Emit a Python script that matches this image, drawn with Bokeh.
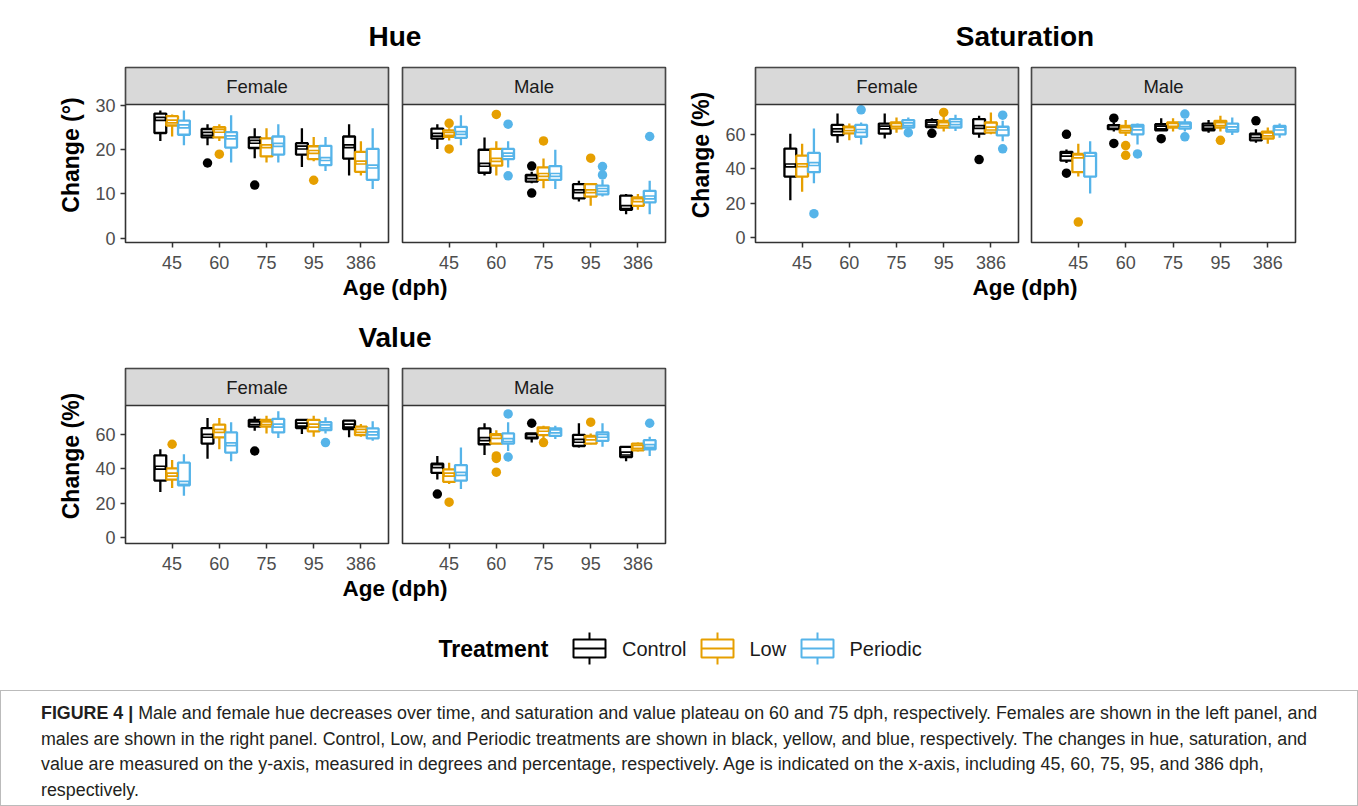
from bokeh.plotting import figure
from bokeh.layouts import column, row
from bokeh.models import Div, Spacer, Range1d, FixedTicker, ColumnDataSource, BoxAnnotation, Label
from bokeh.core.properties import value
from bokeh.embed import file_html
from bokeh.resources import INLINE

# ---------------- data ----------------
AGES = ["45", "60", "75", "95", "386"]
TREATMENTS = ["Control", "Low", "Periodic"]
COLORS = ["#000000", "#E69F00", "#56B4E9"]

# order within each list: for each age -> Control, Low, Periodic
HUE_FEMALE = dict(
    lower=[22.0, 23.0, 21.0, 21.0, 22.0, 17.1, 18.1, 17.1, 17.1, 16.1, 17.4, 15.2, 14.2, 14.2, 11.1],
    q1=[23.8, 25.5, 23.4, 22.8, 22.8, 20.5, 20.4, 18.5, 18.9, 18.9, 17.9, 16.5, 18.0, 15.0, 13.2],
    median=[27.0, 26.4, 25.3, 23.6, 24.3, 22.8, 21.8, 20.8, 21.1, 20.5, 19.5, 17.9, 20.8, 17.1, 16.2],
    q3=[28.2, 27.6, 26.6, 24.7, 25.1, 24.0, 22.8, 22.6, 23.0, 21.5, 20.8, 20.9, 23.0, 19.5, 20.2],
    upper=[28.9, 28.0, 28.9, 25.8, 25.8, 27.8, 24.9, 24.9, 25.8, 24.9, 22.9, 22.9, 25.8, 21.9, 24.9],
)
HUE_FEMALE_OUT = [("60", "Control", 17.0), ("60", "Low", 19.0), ("75", "Control", 12.0), ("95", "Low", 13.1)]

HUE_MALE = dict(
    lower=[20.2, 22.1, 21.0, 14.2, 14.2, 16.0, 12.4, 11.3, 11.1, 8.3, 7.3, 9.4, 5.4, 6.4, 5.4],
    q1=[22.5, 22.9, 22.7, 14.8, 16.4, 17.9, 12.8, 13.2, 13.2, 9.0, 9.4, 9.9, 6.4, 7.3, 8.1],
    median=[23.4, 23.6, 23.8, 16.6, 17.7, 18.9, 13.8, 14.3, 14.3, 10.6, 10.6, 10.9, 7.0, 8.6, 9.2],
    q3=[24.8, 24.4, 25.2, 20.0, 20.2, 20.2, 14.3, 16.0, 16.3, 12.2, 12.2, 11.9, 9.6, 9.2, 10.7],
    upper=[25.8, 24.9, 27.8, 22.8, 21.9, 21.9, 15.0, 18.0, 20.0, 13.0, 12.2, 13.2, 10.0, 10.0, 13.0],
)
HUE_MALE_OUT = [("45", "Low", 26.0), ("45", "Low", 20.2), ("60", "Low", 28.0), ("60", "Periodic", 25.8),
                ("60", "Periodic", 14.1), ("75", "Control", 16.3), ("75", "Control", 10.2), ("75", "Low", 22.0),
                ("95", "Low", 18.1), ("95", "Periodic", 16.2), ("95", "Periodic", 14.3), ("386", "Periodic", 23.0)]

SAT_FEMALE = dict(
    lower=[21.6, 26.5, 31.5, 55.1, 56.5, 54.1, 57.6, 61.0, 62.4, 63.5, 61.6, 62.0, 58.0, 60.0, 56.0],
    q1=[35.4, 35.4, 38.0, 59.6, 60.6, 58.6, 60.4, 63.5, 64.0, 64.3, 64.0, 64.0, 60.4, 61.0, 59.4],
    median=[41.9, 42.0, 42.7, 62.4, 63.0, 62.0, 64.0, 65.5, 65.9, 66.3, 66.0, 66.5, 64.3, 63.4, 63.4],
    q3=[51.7, 47.6, 49.2, 65.5, 64.5, 65.5, 66.3, 66.9, 68.3, 68.3, 67.9, 68.9, 68.9, 66.9, 64.5],
    upper=[60.4, 54.5, 63.4, 72.2, 66.3, 66.9, 72.2, 69.8, 69.8, 69.4, 70.8, 71.4, 70.8, 72.8, 67.9],
)
SAT_FEMALE_OUT = [("45", "Periodic", 13.8), ("60", "Periodic", 74.3), ("75", "Periodic", 61.0),
                  ("95", "Control", 60.6), ("95", "Low", 72.8), ("386", "Control", 45.3),
                  ("386", "Periodic", 71.2), ("386", "Periodic", 51.6)]

SAT_MALE = dict(
    lower=[43.3, 35.4, 25.6, 61.6, 59.0, 54.1, 62.0, 61.6, 61.6, 61.0, 61.6, 59.6, 55.1, 54.5, 58.0],
    q1=[44.7, 38.0, 35.4, 63.0, 61.0, 60.0, 62.4, 64.0, 63.4, 62.4, 64.0, 61.6, 56.5, 57.6, 60.0],
    median=[48.2, 47.2, 48.2, 64.3, 63.0, 63.5, 64.0, 65.5, 65.3, 64.3, 66.0, 63.5, 59.0, 60.0, 63.4],
    q3=[49.8, 48.6, 49.2, 65.3, 64.9, 65.5, 65.9, 66.9, 66.9, 66.3, 67.9, 66.3, 60.4, 61.6, 64.9],
    upper=[51.2, 54.5, 56.0, 66.9, 68.3, 66.3, 69.4, 69.4, 68.9, 68.3, 70.8, 69.8, 63.0, 64.0, 66.3],
)
SAT_MALE_OUT = [("45", "Control", 60.0), ("45", "Control", 37.4), ("45", "Low", 8.9), ("60", "Control", 69.4),
                ("60", "Control", 54.7), ("60", "Low", 53.5), ("60", "Low", 47.8), ("60", "Periodic", 48.6),
                ("75", "Control", 57.5), ("75", "Periodic", 71.8), ("75", "Periodic", 58.6), ("95", "Low", 56.5),
                ("386", "Control", 67.9)]

VAL_FEMALE = dict(
    lower=[26.4, 28.7, 24.2, 45.7, 51.2, 44.3, 61.9, 60.4, 57.7, 60.0, 58.4, 60.4, 58.1, 58.4, 56.1],
    q1=[33.0, 33.6, 30.3, 54.5, 58.1, 49.3, 64.3, 64.3, 61.0, 63.5, 61.6, 62.3, 62.9, 59.4, 57.5],
    median=[40.5, 36.5, 31.7, 59.0, 61.9, 54.1, 66.3, 66.3, 64.9, 65.5, 64.9, 64.5, 64.9, 61.9, 60.4],
    q3=[47.7, 40.1, 43.4, 63.5, 65.5, 61.0, 68.2, 68.2, 68.8, 68.2, 68.2, 66.9, 67.8, 64.3, 63.3],
    upper=[51.2, 44.9, 48.3, 69.4, 69.4, 66.9, 70.2, 70.7, 73.3, 68.2, 70.7, 69.8, 67.8, 65.9, 67.4],
)
VAL_FEMALE_OUT = [("45", "Low", 54.1), ("75", "Control", 50.2), ("95", "Periodic", 55.1)]

VAL_MALE = dict(
    lower=[33.6, 31.1, 28.2, 47.9, 54.5, 50.2, 55.1, 57.1, 57.1, 52.2, 54.1, 52.6, 44.3, 49.9, 47.3],
    q1=[37.5, 32.3, 33.0, 54.1, 54.5, 54.5, 57.5, 59.4, 59.0, 53.1, 54.5, 56.1, 46.7, 50.6, 51.2],
    median=[41.4, 36.5, 36.9, 57.1, 58.4, 56.5, 59.0, 62.5, 61.6, 56.1, 57.5, 59.0, 48.7, 52.6, 53.1],
    q3=[42.8, 39.5, 42.0, 63.3, 60.0, 60.4, 60.4, 63.9, 63.3, 59.6, 59.0, 61.0, 52.6, 54.5, 56.5],
    upper=[47.3, 43.4, 52.2, 66.3, 62.3, 66.9, 60.4, 64.9, 64.9, 66.3, 60.4, 66.3, 53.1, 55.1, 58.4],
)
VAL_MALE_OUT = [("45", "Control", 25.2), ("45", "Low", 20.5), ("60", "Low", 47.3), ("60", "Low", 45.9),
                ("60", "Low", 37.9), ("60", "Periodic", 71.7), ("60", "Periodic", 46.7), ("75", "Control", 66.3),
                ("75", "Low", 55.1), ("95", "Low", 66.9), ("386", "Periodic", 66.3)]

HUE_TICKS = [0, 10, 20, 30]
PCT_TICKS = [0, 20, 40, 60]
SEXES = ["Female", "Male"]

CAPTION_LINES = [
    "Male and female hue decreases over time, and saturation and value plateau on 60 and 75 dph, respectively. Females are shown in the left panel, and",
    "males are shown in the right panel. Control, Low, and Periodic treatments are shown in black, yellow, and blue, respectively. The changes in hue, saturation, and",
    "value are measured on the y-axis, measured in degrees and percentage, respectively. Age is indicated on the x-axis, including 45, 60, 75, 95, and 386 dph,",
    "respectively.",
]

# ---------------- style ----------------
FONT = "Liberation Sans"
DODGE = 0.25
BOXW = 0.25
STRIP_H = 37
PANEL_H = 138
X_LIM = (0.012, 5.585)


def box_source(stats):
    xs, cols = [], []
    for i in range(len(AGES)):
        for t in range(len(TREATMENTS)):
            xs.append(i + 1 + (t - 1) * DODGE)
            cols.append(COLORS[t])
    d = dict(stats)
    d["x"] = xs
    d["left"] = [x - BOXW / 2 for x in xs]
    d["right"] = [x + BOXW / 2 for x in xs]
    d["wl"] = [x - BOXW * 0.36 for x in xs]
    d["wr"] = [x + BOXW * 0.36 for x in xs]
    d["color"] = cols
    return ColumnDataSource(d)


def out_source(outs):
    xs, ys, cols = [], [], []
    for a, t, v in outs:
        ti = TREATMENTS.index(t)
        xs.append(AGES.index(a) + 1 + (ti - 1) * DODGE)
        ys.append(v)
        cols.append(COLORS[ti])
    return ColumnDataSource(dict(x=xs, y=ys, color=cols))


def make_panel(stats, outs, strip_text, yr, yticks, ylabel, lb, rb, fw):
    kw = {}
    if ylabel is None:
        kw["y_axis_location"] = None
    y0, y1 = yr
    ytop = y1 + (y1 - y0) * STRIP_H / PANEL_H
    p = figure(frame_width=fw, frame_height=STRIP_H + PANEL_H, min_border_left=lb, min_border_right=rb,
               min_border_top=2, min_border_bottom=36,
               x_range=Range1d(*X_LIM), y_range=Range1d(y0, ytop),
               output_backend="svg", toolbar_location=None, tools="", **kw)
    p.background_fill_color = "white"
    p.border_fill_color = "white"
    p.outline_line_color = "#333333"
    p.outline_line_width = 1.6
    for g in p.grid:
        g.visible = False
    axes = [p.xaxis[0]] + ([p.yaxis[0]] if ylabel is not None else [])
    for ax in axes:
        ax.axis_line_color = None
        ax.minor_tick_line_color = None
        ax.major_tick_in = 0
        ax.major_tick_out = 5
        ax.major_tick_line_color = "#333333"
        ax.major_tick_line_width = 1.5
        ax.major_label_text_font = FONT
        ax.major_label_text_font_size = "18px"
        ax.major_label_text_color = "#4D4D4D"
    p.xaxis.ticker = FixedTicker(ticks=list(range(1, len(AGES) + 1)))
    p.xaxis.major_label_overrides = {i + 1: a for i, a in enumerate(AGES)}
    p.xaxis.major_label_standoff = 8
    if ylabel is not None:
        p.yaxis.ticker = FixedTicker(ticks=yticks)
        p.yaxis.major_label_standoff = 5
        p.yaxis.axis_label = ylabel
        p.yaxis.axis_label_text_font = FONT
        p.yaxis.axis_label_text_font_style = "bold"
        p.yaxis.axis_label_text_font_size = "23px"
        p.yaxis.axis_label_text_color = "#000000"
        p.yaxis.axis_label_standoff = 8

    # facet strip
    p.add_layout(BoxAnnotation(left=X_LIM[0], right=X_LIM[1], bottom=y1, top=ytop,
                               fill_color="#D9D9D9", fill_alpha=1.0,
                               line_color="#333333", line_width=1.6, line_alpha=1.0))
    p.add_layout(Label(x=(X_LIM[0] + X_LIM[1]) / 2, y=(y1 + ytop) / 2, text=strip_text,
                       text_align="center", text_baseline="middle", text_font=FONT,
                       text_font_size="18.5px", text_color="#1A1A1A"))

    src = box_source(stats)
    osrc = out_source(outs)
    p.scatter("x", "y", source=osrc, size=9.5, color="color", line_width=0)
    p.segment(x0="x", y0="lower", x1="x", y1="q1", source=src, line_color="color", line_width=2.3)
    p.segment(x0="x", y0="q3", x1="x", y1="upper", source=src, line_color="color", line_width=2.3)
    p.quad(left="left", right="right", bottom="q1", top="q3", source=src,
           fill_color="white", line_color="color", line_width=2.3)
    p.segment(x0="left", y0="median", x1="right", y1="median", source=src, line_color="color", line_width=4.6)
    p.segment(x0="wl", y0="median", x1="wr", y1="median", source=src, line_color="white", line_width=1.2)
    return p


def html_div(content, w, h, style):
    return Div(text=f'<div style="width:{w}px;height:{h}px;box-sizing:border-box;{style}">{content}</div>',
               width=w, height=h, margin=0)


def group(title, sf, of, sm, om, yr, yticks, ylabel, left_off, gap, fw_m, right_rest):
    fw_f = 263
    span = fw_f + gap + fw_m
    total = left_off + span + right_rest
    title_row = row(Spacer(width=left_off, height=65, margin=0),
                    html_div(title, span, 65,
                             f"font-family:'{FONT}';font-weight:bold;font-size:28px;color:#000;"
                             "text-align:center;padding-top:23px;line-height:28px;"),
                    Spacer(width=right_rest, height=65, margin=0), spacing=0)
    pf = make_panel(sf, of, SEXES[0], yr, yticks, ylabel, left_off, 2, fw_f)
    pm = make_panel(sm, om, SEXES[1], yr, yticks, None, gap - 2, right_rest, fw_m)
    fig_row = row(pf, pm, spacing=0)
    age_row = row(Spacer(width=left_off, height=23, margin=0),
                  html_div("Age (dph)", span, 23,
                           f"font-family:'{FONT}';font-weight:bold;font-size:22.5px;color:#000;"
                           "text-align:center;padding-top:0px;line-height:20px;white-space:nowrap;"),
                  Spacer(width=right_rest, height=23, margin=0), spacing=0)
    return column(title_row, fig_row, age_row, spacing=0, width=total)


hue = group("Hue", HUE_FEMALE, HUE_FEMALE_OUT, HUE_MALE, HUE_MALE_OUT, (-1.0, 30.25), HUE_TICKS,
            "Change (°)", 125, 14, 263, 14)
sat = group("Saturation", SAT_FEMALE, SAT_FEMALE_OUT, SAT_MALE, SAT_MALE_OUT, (-3.0, 77.4), PCT_TICKS,
            "Change (%)", 76, 13, 264, 63)
val = group("Value", VAL_FEMALE, VAL_FEMALE_OUT, VAL_MALE, VAL_MALE_OUT, (-3.5, 76.6), PCT_TICKS,
            "Change (%)", 125, 14, 263, 14)

row1 = row(hue, sat, spacing=0)
row2 = row(val, Spacer(width=679, height=301, margin=0), spacing=0)

# ---------------- legend ----------------
LEG_H = 88
lg = figure(frame_width=1358, frame_height=LEG_H, min_border=0,
            x_range=Range1d(0, 1358), y_range=Range1d(LEG_H, 0),
            x_axis_location=None, y_axis_location=None,
            output_backend="svg", toolbar_location=None, tools="")
lg.outline_line_color = None
lg.background_fill_color = "white"
lg.border_fill_color = "white"
for g in lg.grid:
    g.visible = False
LEG_CY = 46
KEY_X = [573, 701, 801]
LABEL_X = [621.5, 749, 849]
KEY_W = 32
lsrc = ColumnDataSource(dict(
    cx=[k + KEY_W / 2 for k in KEY_X], left=KEY_X, right=[k + KEY_W for k in KEY_X],
    color=COLORS, label=TREATMENTS, lx=LABEL_X,
))
lg.segment(x0="cx", y0=LEG_CY - 16, x1="cx", y1=LEG_CY + 16, source=lsrc, line_color="color", line_width=2)
lg.quad(left="left", right="right", top=LEG_CY - 9, bottom=LEG_CY + 9, source=lsrc,
        fill_color="white", line_color="color", line_width=2)
lg.segment(x0="left", y0=LEG_CY, x1="right", y1=LEG_CY, source=lsrc, line_color="color", line_width=2)
lg.text(x="lx", y=LEG_CY, text="label", source=lsrc, text_font=value(FONT), text_font_size="20px",
        text_color="#1A1A1A", text_baseline="middle", text_align="left")
lg.text(x=[438], y=[LEG_CY], text=["Treatment"], text_font=value(FONT), text_font_size="23px",
        text_font_style="bold", text_color="#000000", text_baseline="middle", text_align="left")

# ---------------- caption ----------------
cap_html = ("<b>FIGURE 4 |</b> " + CAPTION_LINES[0] + "<br>" + "<br>".join(CAPTION_LINES[1:]))
caption = html_div(cap_html, 1358, 116,
                   f"font-family:'{FONT}',sans-serif;font-size:17.85px;"
                   "color:#231F20;line-height:25.7px;padding:10px 0 0 40px;white-space:nowrap;"
                   "border:1px solid #BBBBBB;")

layout = column(row1, row2, lg, caption, spacing=0)

open("out.html", "w").write(file_html(layout, INLINE))
